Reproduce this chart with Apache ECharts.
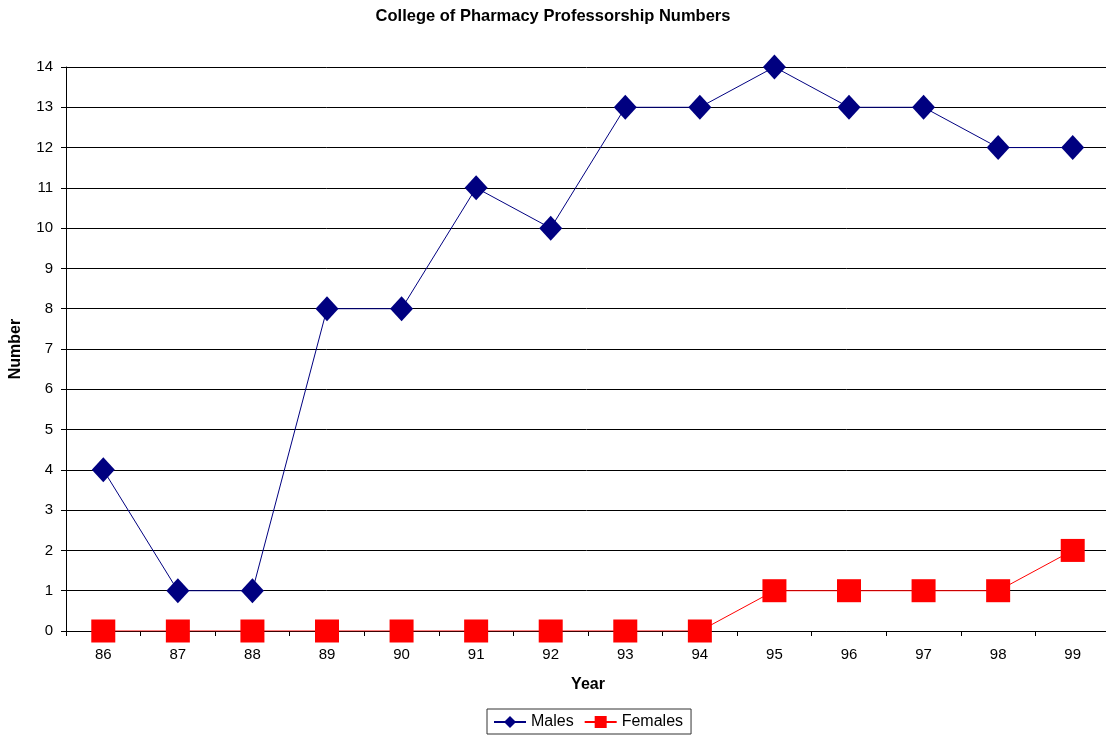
<!DOCTYPE html>
<html><head><meta charset="utf-8">
<script src="https://cdn.jsdelivr.net/npm/echarts@6/dist/echarts.min.js"></script>
<style>html,body{margin:0;padding:0;background:#fff}#c{width:1106px;height:736px}</style>
</head><body><div id="c"></div>
<script>
const years = ['86','87','88','89','90','91','92','93','94','95','96','97','98','99'];
const males = [4,1,1,8,8,11,10,13,13,14,13,13,12,12];
const females = [0,0,0,0,0,0,0,0,0,1,1,1,1,2];
const yTicks = {min:0, max:14, interval:1};

const chart = echarts.init(document.getElementById('c'), null, {renderer:'canvas'});
const F = 'Liberation Sans, Arial, sans-serif';
chart.setOption({
  animation:false,
  backgroundColor:'#fff',
  title:{text:'College of Pharmacy Professorship Numbers', left:'center', top:3,
    textStyle:{fontFamily:F, fontSize:16.5, fontWeight:'bold', color:'#000'}},
  grid:{left:66, top:67, width:1044, bottom:105, containLabel:false, outerBoundsMode:'none'},
  legend:{top:709, left:487, data:['Males','Females'], itemWidth:32, itemHeight:15,
    itemGap:10, borderColor:'#333', borderWidth:1, borderRadius:0, padding:[5,8,4,6],
    textStyle:{fontFamily:F, fontSize:16, color:'#000'}},
  xAxis:{type:'category', data:years, boundaryGap:true, name:'Year', nameLocation:'middle', nameGap:46,
    nameTextStyle:{fontFamily:F, fontSize:16, fontWeight:'bold', color:'#000'},
    axisLine:{lineStyle:{color:'#000', width:1}},
    axisTick:{show:true, alignWithLabel:false, length:5, lineStyle:{color:'#000'}},
    axisLabel:{fontFamily:F, fontSize:15, color:'#000', margin:16},
    splitLine:{show:false}},
  yAxis:{type:'value', min:yTicks.min, max:yTicks.max, interval:yTicks.interval,
    name:'Number', nameLocation:'middle', nameGap:42, nameRotate:90,
    nameTextStyle:{fontFamily:F, fontSize:16, fontWeight:'bold', color:'#000'},
    axisLine:{show:true, lineStyle:{color:'#000', width:1}},
    axisTick:{show:true, length:5, lineStyle:{color:'#000'}},
    axisLabel:{fontFamily:F, fontSize:15, color:'#000', margin:13},
    splitLine:{show:true, lineStyle:{color:'#000', width:1}}},
  series:[
    {name:'Males', type:'line', data:males, symbol:'diamond', symbolSize:[23,25],
      itemStyle:{color:'#000080'}, lineStyle:{color:'#000080', width:1}},
    {name:'Females', type:'line', data:females, symbol:'rect', symbolSize:[24,23],
      itemStyle:{color:'#ff0000'}, lineStyle:{color:'#ff0000', width:1}}
  ]
});
</script></body></html>
